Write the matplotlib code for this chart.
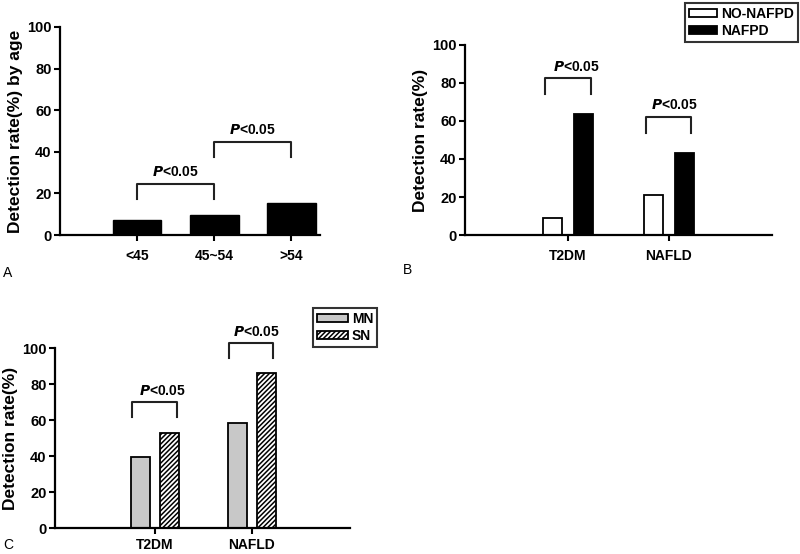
import numpy as np
import matplotlib
matplotlib.use('Agg')
import matplotlib.pyplot as plt
from matplotlib.patches import Patch

plt.rcParams['font.family'] = ['Liberation Sans', 'DejaVu Sans']
plt.rcParams['font.weight'] = 'bold'
plt.rcParams['hatch.linewidth'] = 1.1

# data
age_groups = ["<45", "45~54", ">54"]
age_rate = [7.3, 9.7, 15.2]

groups = ["T2DM", "NAFLD"]
no_nafpd = [8.8, 21.0]
nafpd = [63.7, 43.3]
mn = [39.8, 58.7]
sn = [53.1, 86.1]


def style_axes(ax, ylabel, xpad=6):
    for s in ['top', 'right']:
        ax.spines[s].set_visible(False)
    for s in ['left', 'bottom']:
        ax.spines[s].set_linewidth(1.6)
    ax.set_ylim(0, 100)
    ax.set_yticks([0, 20, 40, 60, 80, 100])
    ax.tick_params(axis='y', length=4, width=1.5, labelsize=10.5, pad=2)
    ax.tick_params(axis='x', length=4, width=1.5, labelsize=10, pad=xpad)
    ax.set_ylabel(ylabel, fontsize=12.5, fontweight='bold', labelpad=3)


def bracket(ax, x0, x1, top, leg, dx=0.0):
    ax.plot([x0, x0, x1, x1], [leg, top, top, leg], color='#222222', lw=1.5, clip_on=False)
    ax.text((x0 + x1) / 2 + dx, top + 6, r"$\bfit{P}$<0.05", ha='center', va='center',
            fontsize=10, fontweight='bold', clip_on=False)


fig = plt.figure(figsize=(8, 5.54), dpi=100)

# panel A
axA = fig.add_axes([0.075, 0.5758, 0.325, 0.3755])
xa = np.arange(len(age_groups))
axA.bar(xa, age_rate, width=0.63, color='black', edgecolor='black')
axA.set_xlim(-1, 2.37)
axA.set_xticks(xa)
axA.set_xticklabels(age_groups)
style_axes(axA, "Detection rate(%) by age")
bracket(axA, 0, 1, 24.5, 17.5)
bracket(axA, 1, 2, 44.7, 37.3)

# panel B
axB = fig.add_axes([0.58125, 0.5758, 0.38375, 0.343])
xb = np.arange(len(groups))
w = 0.19
off = 0.153
axB.bar(xb - off, no_nafpd, width=w, color='white', edgecolor='black', lw=1.3)
axB.bar(xb + off, nafpd, width=w, color='black', edgecolor='black', lw=1.3)
axB.set_xlim(-1.02, 2.02)
axB.set_xticks(xb)
axB.set_xticklabels(groups)
style_axes(axB, "Detection rate(%)")
bracket(axB, 0 - 0.23, 0 + 0.23, 82.5, 74, dx=0.08)
bracket(axB, 1 - 0.23, 1 + 0.22, 62.3, 53.8, dx=0.06)
handlesB = [Patch(facecolor='white', edgecolor='black', lw=1.3, label='NO-NAFPD'),
            Patch(facecolor='black', edgecolor='black', lw=1.3, label='NAFPD')]
legB = fig.legend(handles=handlesB, loc='upper left', bbox_to_anchor=(685 / 800, 1 - 3 / 554),
                  fontsize=10, frameon=True, fancybox=False, handlelength=2.0, handleheight=0.55,
                  handletextpad=0.3, borderpad=0.3, labelspacing=0.2, borderaxespad=0)
legB.get_frame().set_edgecolor('black')
legB.get_frame().set_linewidth(1.5)

# panel C
axC = fig.add_axes([0.06875, 0.0464, 0.36875, 0.3249])
xc = np.arange(len(groups))
w = 0.196
off = 0.15
axC.bar(xc - off, mn, width=w, color='#c8c8c8', edgecolor='black', lw=1.3)
axC.bar(xc + off, sn, width=w, color='white', edgecolor='black', lw=1.3, hatch='///////')
axC.set_xlim(-1.03, 2.01)
axC.set_xticks(xc)
axC.set_xticklabels(groups)
style_axes(axC, "Detection rate(%)", xpad=3)
bracket(axC, 0 - 0.24, 0 + 0.23, 70, 62, dx=0.08)
bracket(axC, 1 - 0.24, 1 + 0.22, 103.1, 94.8, dx=0.06)
handlesC = [Patch(facecolor='#c8c8c8', edgecolor='black', lw=1.3, label='MN'),
            Patch(facecolor='white', edgecolor='black', lw=1.3, hatch='///////', label='SN')]
legC = fig.legend(handles=handlesC, loc='upper left', bbox_to_anchor=(313 / 800, 1 - 308 / 554),
                  fontsize=10, frameon=True, fancybox=False, handlelength=2.2, handleheight=0.55,
                  handletextpad=0.3, borderpad=0.3, labelspacing=0.2, borderaxespad=0)
legC.get_frame().set_edgecolor('black')
legC.get_frame().set_linewidth(1.5)

# panel letters
fig.text(3 / 800, 1 - 273 / 554, "A", fontsize=10, fontweight='normal', va='center')
fig.text(403 / 800, 1 - 270 / 554, "B", fontsize=10, fontweight='normal', va='center')
fig.text(3 / 800, 1 - 545 / 554, "C", fontsize=10, fontweight='normal', va='center')

fig.savefig("out.png", dpi=100)
